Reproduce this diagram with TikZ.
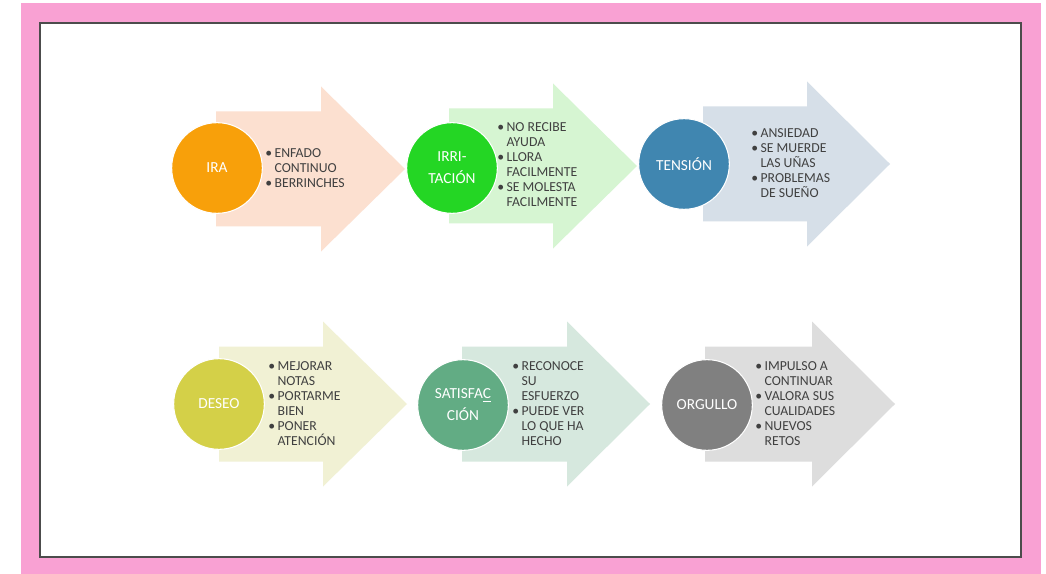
\documentclass[tikz,border=0pt]{standalone}
\usepackage{fontspec}
\setmainfont{Carlito}
\usetikzlibrary{positioning}

\definecolor{marco}{RGB}{249,161,211}
\definecolor{textgray}{RGB}{64,64,64}
\definecolor{cira}{RGB}{248,160,10}
\definecolor{cirri}{RGB}{36,214,36}
\definecolor{ctension}{RGB}{64,134,176}
\definecolor{cdeseo}{RGB}{212,208,72}
\definecolor{csatis}{RGB}{98,172,132}
\definecolor{corgullo}{RGB}{128,128,128}
\definecolor{fira}{RGB}{252,224,208}
\definecolor{firri}{RGB}{214,245,210}
\definecolor{ftension}{RGB}{214,223,232}
\definecolor{fdeseo}{RGB}{241,241,212}
\definecolor{fsatis}{RGB}{214,232,222}
\definecolor{forgullo}{RGB}{221,221,221}

% body left, head start, tip, center y, fill colour (pixel units)
\newcommand{\emoarrow}[5]{%
  \fill[#5] (#1,{#4-57.5}) -- (#2,{#4-57.5}) -- (#2,{#4-82.5}) -- (#3,#4)
    -- (#2,{#4+82.5}) -- (#2,{#4+57.5}) -- (#1,{#4+57.5}) -- cycle;}
\newcommand{\bul}{\makebox[7pt][l]{\textbullet}}
\newcommand{\ind}{\hspace*{7pt}}

\begin{document}
\begin{tikzpicture}[x=0.75pt, y=-0.75pt,
    emo/.style={circle, draw=white, line width=0.8pt, minimum size=68pt, inner sep=0pt,
      text=white, align=center, font=\fontsize{11.5}{16.5}\selectfont},
    lista/.style={anchor=west, inner sep=0pt, align=left, text=textgray,
      font=\fontsize{10.3}{11.25}\selectfont}]
  \useasboundingbox (0,0) rectangle (1046,574);
  \fill[white] (0,0) rectangle (1046,574);
  \fill[marco] (21,3) rectangle (1041,574);
  \fill[white] (40,23) rectangle (1021,557);
  \draw[gray!60!black, line width=1.3pt] (40,23) rectangle (1021,557);

  % top row
  \emoarrow{216}{321}{405}{169}{fira}
  \emoarrow{449}{553}{637}{166}{firri}
  \emoarrow{703}{807}{890}{164}{ftension}
  % bottom row
  \emoarrow{219}{323}{407}{404}{fdeseo}
  \emoarrow{462}{567}{650}{404}{fsatis}
  \emoarrow{705}{812}{895}{404}{forgullo}

  \node[emo, fill=cira] (ira) at (217,168) {IRA};
  \node[emo, fill=cirri] (irri) at (452,168) {IRRI-\\TACIÓN};
  \node[emo, fill=ctension] (tension) at (684,164) {TENSIÓN};
  \node[emo, fill=cdeseo] (deseo) at (219,404) {DESEO};
  \node[emo, fill=csatis] (satis) at (463,405) {SATISFA\underline{C}\\CIÓN};
  \node[emo, fill=corgullo] (orgullo) at (707,405) {ORGULLO};

  \node[lista] (ira-list) at (265,168) {\bul ENFADO\\\ind CONTINUO\\\bul BERRINCHES};
  \node[lista] (irri-list) at (497,164.5) {\bul NO RECIBE\\\ind AYUDA\\\bul LLORA\\\ind FACILMENTE\\\bul SE MOLESTA\\\ind FACILMENTE};
  \node[lista] (tension-list) at (751,163) {\bul ANSIEDAD\\\bul SE MUERDE\\\ind LAS UÑAS\\\bul PROBLEMAS\\\ind DE SUEÑO};
  \node[lista] (deseo-list) at (268,404) {\bul MEJORAR\\\ind NOTAS\\\bul PORTARME\\\ind BIEN\\\bul PONER\\\ind ATENCIÓN};
  \node[lista] (satis-list) at (512,403.5) {\bul RECONOCE\\\ind SU\\\ind ESFUERZO\\\bul PUEDE VER\\\ind LO QUE HA\\\ind HECHO};
  \node[lista] (orgullo-list) at (755,404) {\bul IMPULSO A\\\ind CONTINUAR\\\bul VALORA SUS\\\ind CUALIDADES\\\bul NUEVOS\\\ind RETOS};
\end{tikzpicture}
\end{document}
